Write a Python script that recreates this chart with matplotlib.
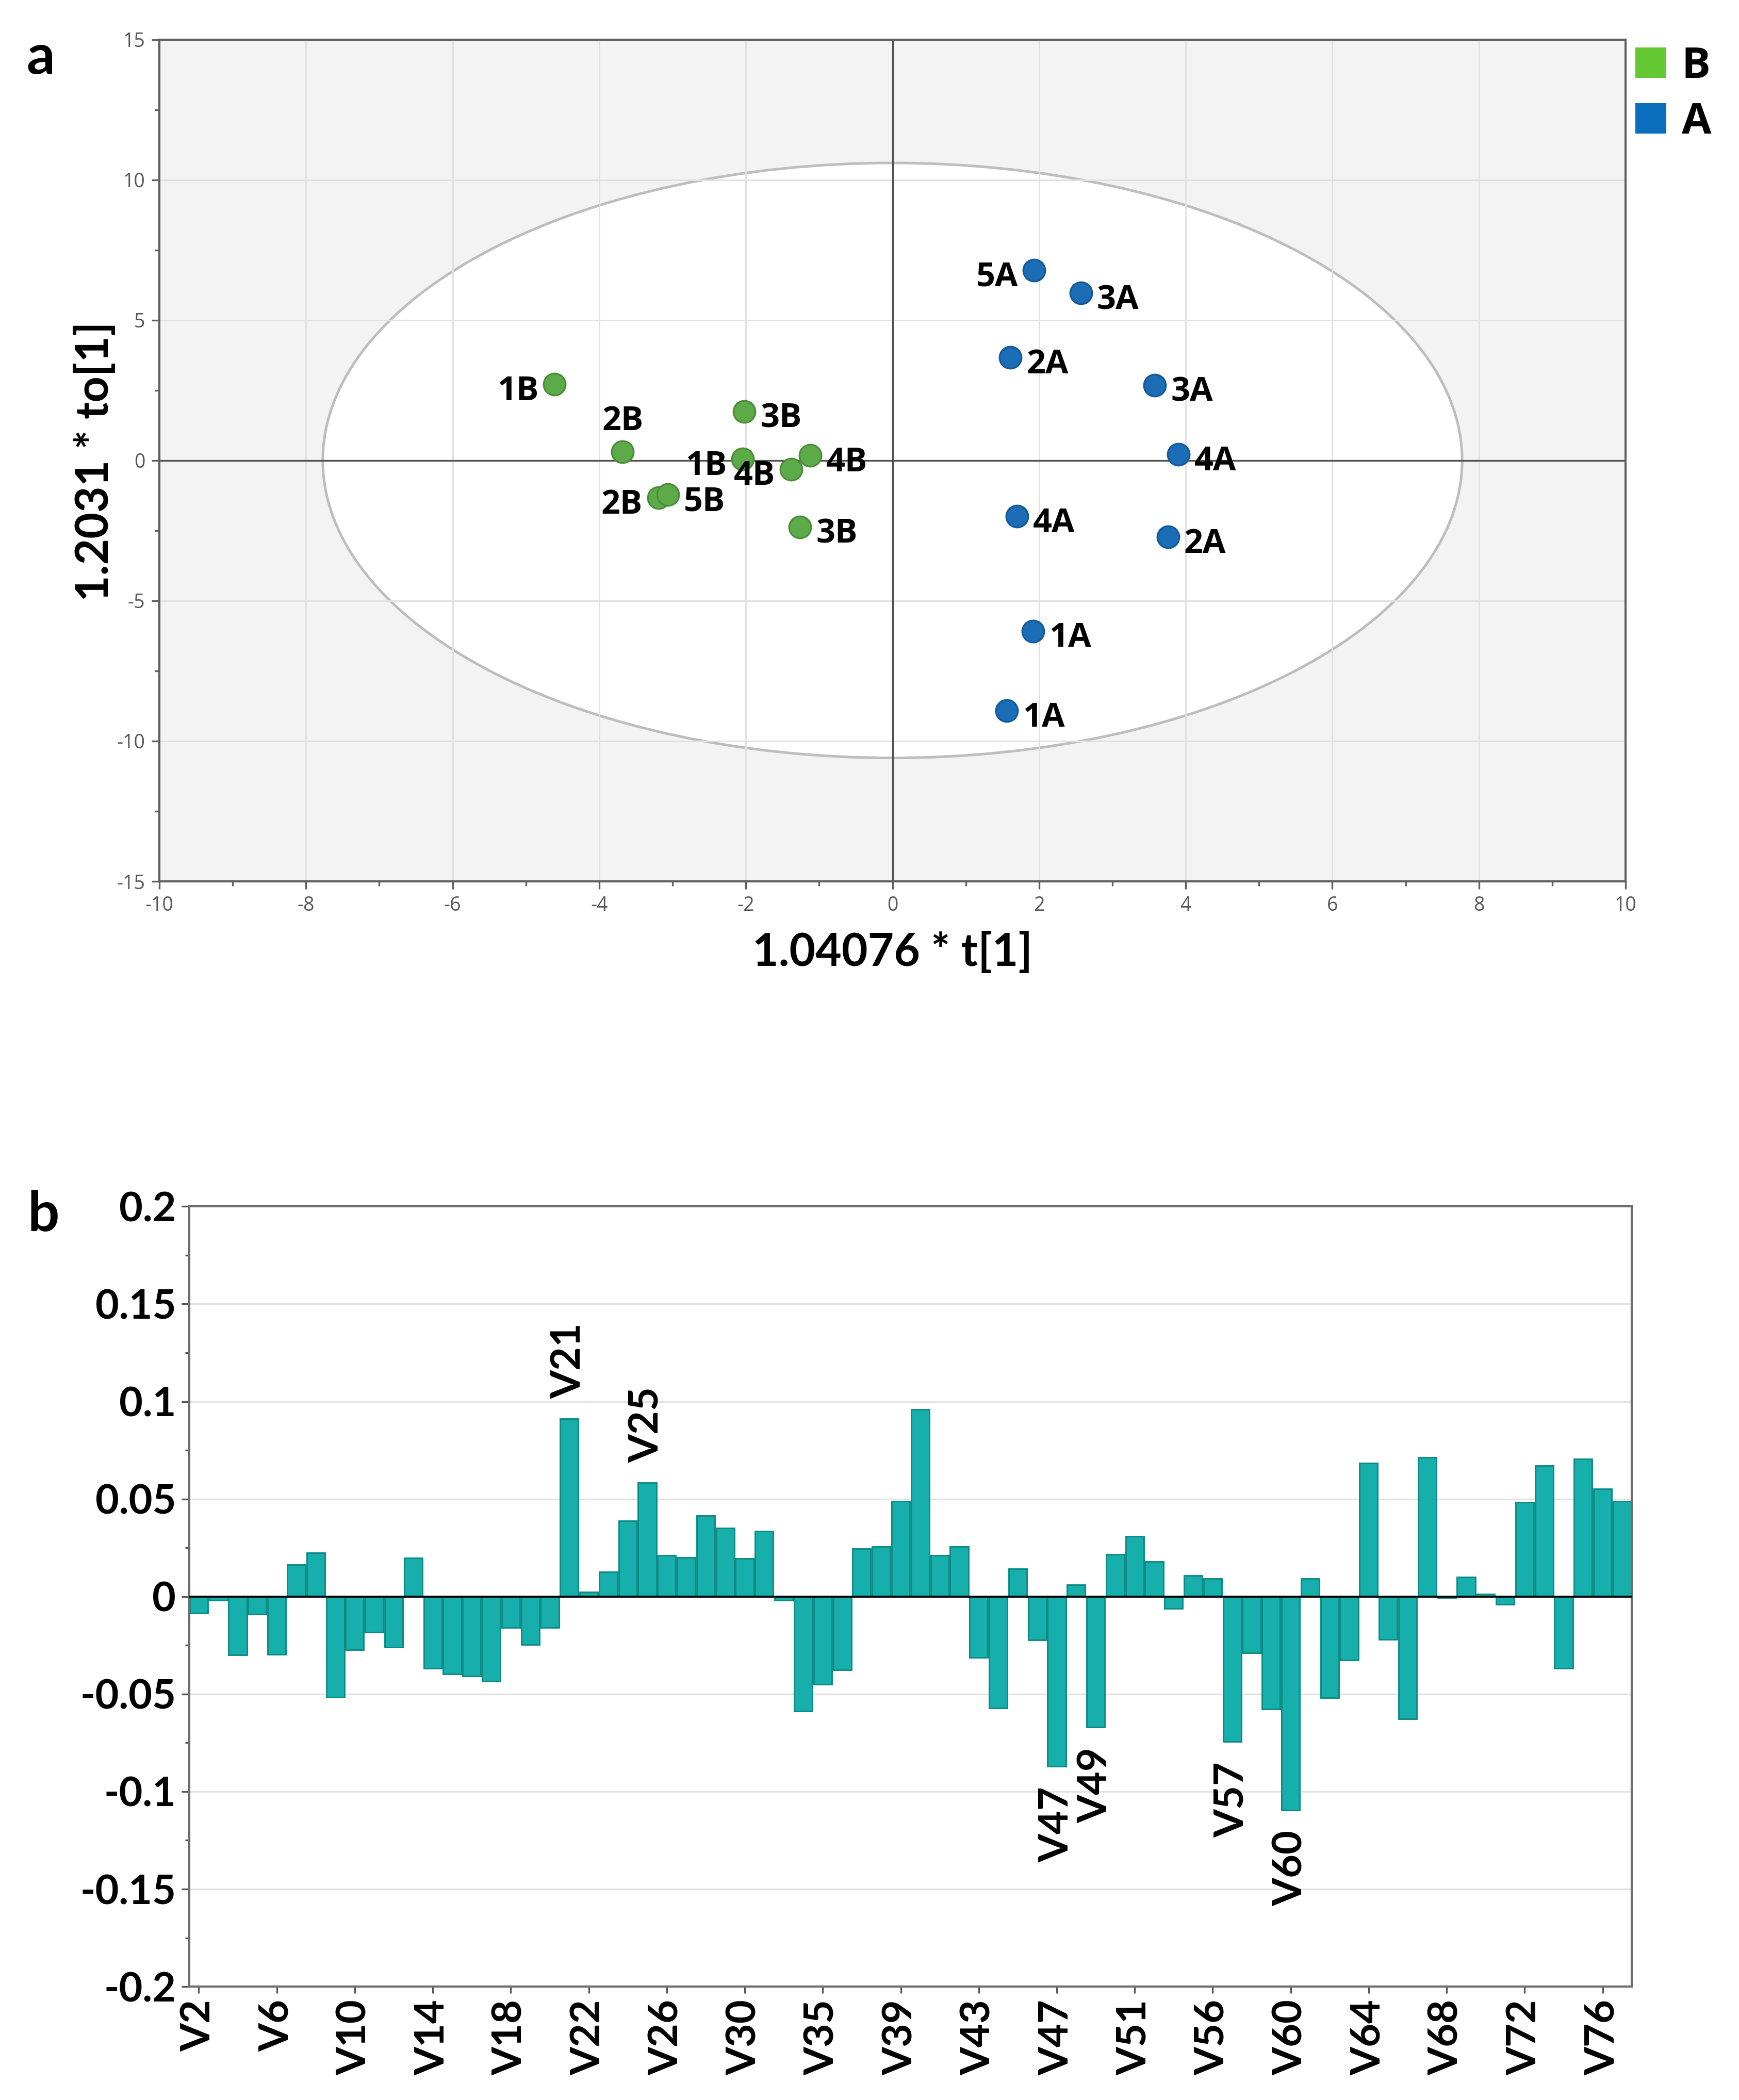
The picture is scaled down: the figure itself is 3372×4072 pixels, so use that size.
import matplotlib
matplotlib.use("Agg")
import matplotlib.pyplot as plt
from matplotlib.patches import Ellipse, Patch
from matplotlib.ticker import MultipleLocator
import numpy as np

plt.rcParams['font.family'] = ['Open Sans', 'DejaVu Sans']
plt.rcParams['axes.unicode_minus'] = False

# ---------------- data: panel a (OPLS-DA scores) ----------------
labels_B = ['1B', '2B', '3B', '1B', '4B', '4B', '2B', '5B', '3B']
x_B = [-4.61, -3.68, -2.02, -2.04, -1.38, -1.12, -3.19, -3.06, -1.26]
y_B = [2.71, 0.30, 1.74, 0.055, -0.31, 0.18, -1.33, -1.22, -2.37]
side_B = ['left', 'above', 'right', 'left', 'left', 'right', 'left', 'right', 'right']

labels_A = ['5A', '3A', '2A', '3A', '4A', '4A', '2A', '1A', '1A']
x_A = [1.93, 2.57, 1.61, 3.58, 3.90, 1.70, 3.76, 1.92, 1.56]
y_A = [6.78, 5.96, 3.67, 2.68, 0.22, -1.99, -2.72, -6.08, -8.92]
side_A = ['left', 'right', 'right', 'right', 'right', 'right', 'right', 'right', 'right']

ellipse_axes = [7.77, 10.6]   # semi-axes (t, to) of Hotelling T2 ellipse

# ---------------- data: panel b (loadings) ----------------
var_names = ['V2', 'V3', 'V4', 'V5', 'V6', 'V7', 'V8', 'V9', 'V10', 'V11', 'V12', 'V13',
             'V14', 'V15', 'V16', 'V17', 'V18', 'V19', 'V20', 'V21', 'V22', 'V23', 'V24',
             'V25', 'V26', 'V27', 'V28', 'V29', 'V30', 'V31', 'V32', 'V33', 'V35', 'V36',
             'V37', 'V38', 'V39', 'V40', 'V41', 'V42', 'V43', 'V44', 'V45', 'V46', 'V47',
             'V48', 'V49', 'V50', 'V51', 'V52', 'V53', 'V54', 'V56', 'V57', 'V58', 'V59',
             'V60', 'V61', 'V62', 'V63', 'V64', 'V65', 'V66', 'V67', 'V68', 'V69', 'V70',
             'V71', 'V72', 'V73', 'V74', 'V75', 'V76', 'V77']
loadings = [-0.0086, -0.002, -0.030, -0.009, -0.0296, 0.0163, 0.0225, -0.0515, -0.0272,
            -0.0183, -0.026, 0.0198, -0.0367, -0.0396, -0.0408, -0.0435, -0.016, -0.0246,
            -0.016, 0.0911, 0.0024, 0.0127, 0.0388, 0.0583, 0.021, 0.0201, 0.0414, 0.0352,
            0.0195, 0.0334, -0.002, -0.0589, -0.045, -0.0376, 0.0246, 0.0257, 0.0488,
            0.0959, 0.021, 0.0257, -0.0314, -0.0571, 0.0142, -0.0222, -0.087, 0.0059,
            -0.0669, 0.0216, 0.0308, 0.018, -0.0062, 0.0107, 0.0092, -0.0743, -0.029,
            -0.0577, -0.1095, 0.0092, -0.0518, -0.0325, 0.0683, -0.0219, -0.0627, 0.0713,
            -0.0005, 0.010, 0.0012, -0.004, 0.0482, 0.0672, -0.0367, 0.0704, 0.0553, 0.0488]
highlight = ['V21', 'V25', 'V47', 'V49', 'V57', 'V60']
ytick_vals = [-0.2, -0.15, -0.1, -0.05, 0, 0.05, 0.1, 0.15, 0.2]
ytick_text = ['-0.2', '-0.15', '-0.1', '-0.05', '0', '0.05', '0.1', '0.15', '0.2']

# ---------------- figure ----------------
fig = plt.figure(figsize=(3372 / 300, 4072 / 300), dpi=300)
axa = fig.add_axes([0.0916, 0.5803, 0.8432, 0.4009])
axb = fig.add_axes([0.1087, 0.0540, 0.8297, 0.3715])

# ----- panel a -----
axa.set_facecolor('#F3F3F3')
axa.set_xlim(-10, 10)
axa.set_ylim(-15, 15)
axa.add_patch(Ellipse((0, 0), 2 * ellipse_axes[0], 2 * ellipse_axes[1],
                      facecolor='white', edgecolor='#BDBDBD', lw=1.2, zorder=0.2))
axa.xaxis.set_major_locator(MultipleLocator(2))
axa.xaxis.set_minor_locator(MultipleLocator(1))
axa.yaxis.set_major_locator(MultipleLocator(5))
axa.yaxis.set_minor_locator(MultipleLocator(2.5))
axa.set_axisbelow(True)
axa.grid(True, which='major', color='#E1E1E1', lw=0.7)
axa.axhline(0, color='#505050', lw=0.8, zorder=1)
axa.axvline(0, color='#505050', lw=0.8, zorder=1)
axa.tick_params(which='both', direction='out', color='#606060', width=0.8,
                labelsize=9, labelcolor='#555555', pad=3)
axa.tick_params(which='major', length=3.6)
axa.tick_params(which='minor', length=2.2)
for s in axa.spines.values():
    s.set_color('#606060')
    s.set_linewidth(1.0)

green_pt, green_edge = '#5DAA48', '#4A8E38'
blue_pt, blue_edge = '#1B6DB6', '#135A99'
axa.scatter(x_B, y_B, s=104, color=green_pt, edgecolor=green_edge, lw=0.8, zorder=4)
axa.scatter(x_A, y_A, s=104, color=blue_pt, edgecolor=blue_edge, lw=0.8, zorder=4)


def place(ax, xs, ys, labs, sides):
    for xv, yv, lab, sd in zip(xs, ys, labs, sides):
        if sd == 'left':
            off, ha = (-7.4, -7.4), 'right'
        elif sd == 'right':
            off, ha = (7.4, -7.4), 'left'
        else:
            off, ha = (0, 10.3), 'center'
        ax.annotate(lab, (xv, yv), xytext=off, textcoords='offset points',
                    ha=ha, va='baseline', fontsize=15.5, fontweight='bold',
                    color='black', zorder=5)


place(axa, x_B, y_B, labels_B, side_B)
place(axa, x_A, y_A, labels_A, side_A)

fig.text(0.5131, 0.5464, '1.04076 * t[1]', ha='center', va='center',
         fontsize=21, fontweight='bold', family='Lato')
fig.text(0.0545, 0.7802, '1.2031 * to[1]', ha='center', va='center', rotation=90,
         fontsize=21, fontweight='bold', family='Lato')

handles = [Patch(facecolor='#63C832', edgecolor='none'),
           Patch(facecolor='#0B6DBD', edgecolor='none')]
fig.legend(handles, ['B', 'A'], loc='upper left', bbox_to_anchor=(0.9405, 0.9785),
           frameon=False, fontsize=20, prop={'weight': 'bold', 'size': 20},
           handlelength=0.72, handleheight=0.72, handletextpad=0.35,
           labelspacing=0.3, borderpad=0, borderaxespad=0)

fig.text(0.0151, 0.9649, 'a', ha='left', va='baseline', fontsize=26,
         fontweight='bold', family='Lato')
fig.text(0.0157, 0.4138, 'b', ha='left', va='baseline', fontsize=26,
         fontweight='bold', family='Lato')

# ----- panel b -----
n = len(var_names)
pos = np.arange(n)
axb.bar(pos, loadings, width=0.93, color='#17AFAB', edgecolor='#0D8A86',
        linewidth=0.7, zorder=2)
axb.set_xlim(-0.5, n - 0.5)
axb.set_ylim(-0.2, 0.2)
axb.set_axisbelow(True)
axb.yaxis.grid(True, color='#E3E3E3', lw=0.8)
axb.axhline(0, color='black', lw=0.9, zorder=3)

tick_idx = list(range(0, n, 4))
axb.set_xticks(tick_idx, [var_names[i] for i in tick_idx], rotation=90,
               fontsize=19, fontweight='bold', family='Lato')
axb.set_yticks(ytick_vals, ytick_text, fontsize=19, fontweight='bold', family='Lato')
axb.yaxis.set_minor_locator(MultipleLocator(0.025))
axb.tick_params(which='both', direction='out', color='#555555', width=0.8)
axb.tick_params(axis='y', which='major', length=3.6, pad=2.5)
axb.tick_params(axis='y', which='minor', length=2.0)
axb.tick_params(axis='x', which='major', length=3.0, pad=3)
for s in axb.spines.values():
    s.set_color('#6E6E6E')
    s.set_linewidth(1.0)

for name in highlight:
    i = var_names.index(name)
    v = loadings[i]
    if v >= 0:
        axb.annotate(name, (i, v), xytext=(0, 9.5), textcoords='offset points',
                     rotation=90, ha='center', va='bottom', fontsize=19,
                     fontweight='bold', family='Lato', zorder=5)
    else:
        axb.annotate(name, (i, v), xytext=(0, -9.5), textcoords='offset points',
                     rotation=90, ha='center', va='top', fontsize=19,
                     fontweight='bold', family='Lato', zorder=5)

fig.savefig('out.png', dpi=300, facecolor='white')
